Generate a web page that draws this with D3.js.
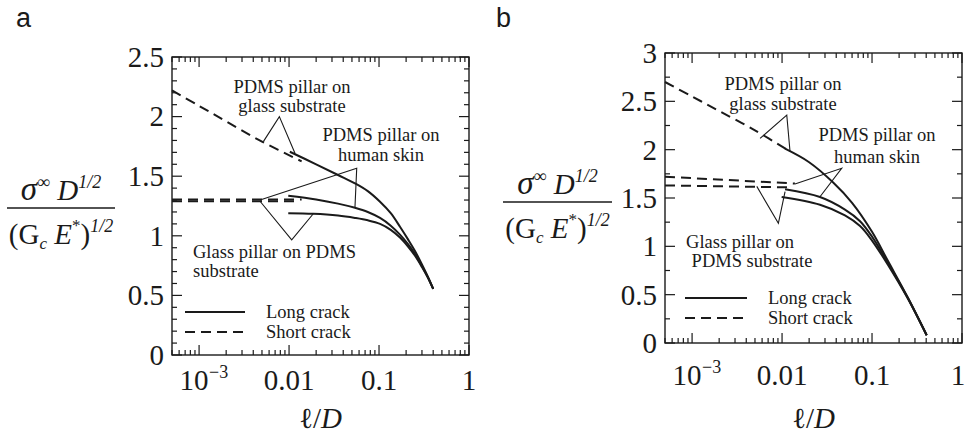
<!DOCTYPE html>
<html>
<head>
<meta charset="utf-8">
<script src="https://cdn.jsdelivr.net/npm/d3@7"></script>
<style>
  body { margin: 0; background: #fff; }
  svg { display: block; }
  text { font-family: "Liberation Serif", "Times New Roman", serif; fill: #1a1a1a; }
  text.letter { font-family: "Liberation Sans", Arial, sans-serif; }
</style>
</head>
<body>
<div id="chart"></div>
<script>
// x axis (shared by both panels)
const xDomain = [0.0005, 1];
const xMajorTicks = [0.001, 0.01, 0.1, 1];
const xTickLabels = ["10", "0.01", "0.1", "1"];
const xTickSup = ["\u22123", "", "", ""];

// panel a values
const aYTicks = [0, 0.5, 1, 1.5, 2, 2.5];
const aGlassShortX = [0.0005, 0.001, 0.002, 0.005, 0.0138];
const aGlassShortY = [2.22, 2.09, 1.96, 1.79, 1.625];
const aGlassLongX = [0.0102, 0.02, 0.035, 0.054, 0.075, 0.1026, 0.135, 0.171, 0.21, 0.25, 0.3, 0.35, 0.40];
const aGlassLongY = [1.705, 1.60, 1.51, 1.44, 1.375, 1.286, 1.19, 1.076, 0.97, 0.875, 0.76, 0.655, 0.554];
const aSkinShortX = [0.0005, 0.0138];
const aSkinShortY = [1.305, 1.305];
const aPillarShortX = [0.0005, 0.0125];
const aPillarShortY = [1.29, 1.29];
const aSkinLongX = [0.0098, 0.02, 0.035, 0.054, 0.075, 0.1026, 0.135, 0.171, 0.21, 0.25, 0.3, 0.35, 0.40];
const aSkinLongY = [1.336, 1.305, 1.27, 1.235, 1.20, 1.15, 1.085, 1.01, 0.93, 0.85, 0.745, 0.65, 0.554];
const aPillarLongX = [0.0098, 0.0186, 0.035, 0.054, 0.075, 0.1026, 0.135, 0.171, 0.21, 0.25, 0.3, 0.35, 0.40];
const aPillarLongY = [1.19, 1.185, 1.17, 1.15, 1.13, 1.10, 1.05, 0.985, 0.91, 0.835, 0.738, 0.647, 0.554];

// panel b values
const bYTicks = [0, 0.5, 1, 1.5, 2, 2.5, 3];
const bGlassShortX = [0.0005, 0.001, 0.002, 0.005, 0.0118];
const bGlassShortY = [2.70, 2.55, 2.40, 2.20, 1.99];
const bGlassLongX = [0.0108, 0.02, 0.037, 0.06, 0.1, 0.15, 0.25, 0.405];
const bGlassLongY = [2.01, 1.87, 1.66, 1.45, 1.15, 0.85, 0.47, 0.08];
const bSkinShortX = [0.0005, 0.0139];
const bSkinShortY = [1.72, 1.65];
const bPillarShortX = [0.0005, 0.012];
const bPillarShortY = [1.63, 1.61];
const bSkinLongX = [0.0108, 0.0264, 0.05, 0.0736, 0.1, 0.15, 0.25, 0.405];
const bSkinLongY = [1.59, 1.51, 1.38, 1.26, 1.10, 0.83, 0.465, 0.08];
const bPillarLongX = [0.0099, 0.0264, 0.05, 0.0736, 0.1, 0.15, 0.25, 0.405];
const bPillarLongY = [1.51, 1.43, 1.32, 1.21, 1.06, 0.81, 0.46, 0.08];

// callout lines in data space: [x, y] leg, apex, leg
const aCallouts = [
  [[0.00518, 1.79], [0.0078, 2.0], [0.01167, 1.69]],
  [[0.00476, 1.30], [0.0565, 1.566], [0.054, 1.235]],
  [[0.00476, 1.29], [0.0107, 0.965], [0.0186, 1.185]]
];
const bCallouts = [
  [[0.0057, 2.117], [0.01128, 2.358], [0.01227, 1.978]],
  [[0.0139, 1.645], [0.046, 1.807], [0.0264, 1.513]],
  [[0.00524, 1.62], [0.0091, 1.238], [0.0108, 1.565]]
];

const width = 966;
const height = 438;
const svg = d3.select("#chart").append("svg")
  .attr("width", width)
  .attr("height", height);

function zip(xs, ys) {
  return xs.map((x, i) => [x, ys[i]]);
}

function drawPanel(p) {
  const x = d3.scaleLog().domain(xDomain).range([p.left, p.right]);
  const y = d3.scaleLinear().domain([0, p.yMax]).range([p.bottom, p.top]);
  const g = svg.append("g");

  // frame
  g.append("rect")
    .attr("x", p.left).attr("y", p.top)
    .attr("width", p.right - p.left).attr("height", p.bottom - p.top)
    .attr("fill", "none").attr("stroke", "#1a1a1a").attr("stroke-width", 1.4);

  // log minor ticks, top and bottom, inward
  const minor = [];
  for (let e = -4; e <= 0; e++) {
    for (let k = 2; k <= 9; k++) {
      const v = k * Math.pow(10, e);
      if (v >= xDomain[0] && v < xDomain[1]) minor.push(v);
    }
  }
  const xt = g.append("g").attr("stroke", "#1a1a1a").attr("stroke-width", 1.2);
  minor.forEach(v => {
    xt.append("line").attr("x1", x(v)).attr("x2", x(v)).attr("y1", p.bottom).attr("y2", p.bottom - 5);
    xt.append("line").attr("x1", x(v)).attr("x2", x(v)).attr("y1", p.top).attr("y2", p.top + 5);
  });
  xMajorTicks.forEach(v => {
    xt.append("line").attr("x1", x(v)).attr("x2", x(v)).attr("y1", p.bottom).attr("y2", p.bottom - 10);
    xt.append("line").attr("x1", x(v)).attr("x2", x(v)).attr("y1", p.top).attr("y2", p.top + 10);
  });

  // y ticks, both sides, inward
  const yMinor = d3.range(0, p.yMax + 1e-9, p.yMinorStep);
  yMinor.forEach(v => {
    const major = Math.abs(v / 0.5 - Math.round(v / 0.5)) < 1e-6;
    const len = major ? 10 : 5;
    xt.append("line").attr("x1", p.left).attr("x2", p.left + len).attr("y1", y(v)).attr("y2", y(v));
    xt.append("line").attr("x1", p.right).attr("x2", p.right - len).attr("y1", y(v)).attr("y2", y(v));
  });

  // y tick labels
  g.selectAll(".ylab")
    .data(p.yTicks)
    .enter()
    .append("text")
    .attr("class", "ylab")
    .attr("x", p.left - 8)
    .attr("y", v => y(v))
    .attr("dy", "0.34em")
    .attr("text-anchor", "end")
    .attr("font-size", 29)
    .text(v => d3.format("~g")(v));

  // x tick labels
  xMajorTicks.forEach((v, i) => {
    const shift = xTickSup[i] ? -5 : (i === xMajorTicks.length - 1 ? p.lastShift : 0);
    g.append("text")
      .attr("x", x(v) + shift)
      .attr("y", p.xLabelBase)
      .attr("text-anchor", "middle")
      .attr("font-size", 29)
      .text(xTickLabels[i]);
    if (xTickSup[i]) {
      g.append("text")
        .attr("x", x(v) + 10)
        .attr("y", p.xLabelBase - 12)
        .attr("font-size", 18)
        .text(xTickSup[i]);
    }
  });

  // x axis title
  const xl = g.append("text")
    .attr("x", (p.left + p.right) / 2)
    .attr("y", p.xTitleBase)
    .attr("text-anchor", "middle")
    .attr("font-size", 29);
  xl.append("tspan").text("\u2113/");
  xl.append("tspan").attr("font-style", "italic").text("D");

  // y axis title as a fraction
  g.append("line")
    .attr("x1", p.fracLeft).attr("x2", p.fracRight)
    .attr("y1", p.fracY).attr("y2", p.fracY)
    .attr("stroke", "#1a1a1a").attr("stroke-width", 1.3);
  const cx = (p.fracLeft + p.fracRight) / 2;
  const num = g.append("text")
    .attr("x", cx).attr("y", p.fracY - 8)
    .attr("text-anchor", "middle")
    .attr("font-size", 29)
    .attr("font-style", "italic");
  num.append("tspan").attr("font-size", 33).text("\u03C3");
  num.append("tspan").attr("font-size", 18).attr("font-style", "normal").attr("dy", -12).text("\u221E");
  num.append("tspan").attr("dy", 12).text(" D");
  num.append("tspan").attr("font-size", 18).attr("dy", -12).text("1/2");
  const den = g.append("text")
    .attr("x", cx).attr("y", p.fracY + 36)
    .attr("text-anchor", "middle")
    .attr("font-size", 29);
  den.append("tspan").text("(G");
  den.append("tspan").attr("font-size", 17).attr("font-style", "italic").attr("dy", 5).text("c");
  den.append("tspan").attr("font-style", "italic").attr("dy", -5).text(" E");
  den.append("tspan").attr("font-size", 17).attr("dy", -13).text("*");
  den.append("tspan").attr("dy", 13).text(")");
  den.append("tspan").attr("font-size", 18).attr("font-style", "italic").attr("dy", -12).text("1/2");

  // panel letter
  g.append("text")
    .attr("class", "letter")
    .attr("x", p.letterX).attr("y", 27)
    .attr("font-size", 27)
    .text(p.letter);

  // curves
  const line = d3.line()
    .x(d => x(d[0]))
    .y(d => y(d[1]))
    .curve(d3.curveCatmullRom.alpha(0.5));
  p.series.forEach(s => {
    g.append("path")
      .datum(zip(s.x, s.y))
      .attr("d", line)
      .attr("fill", "none")
      .attr("stroke", "#1a1a1a")
      .attr("stroke-width", 2)
      .attr("stroke-dasharray", s.dashed ? "10,6" : null);
  });

  // callouts
  p.callouts.forEach(c => {
    g.append("path")
      .attr("d", d3.line().x(d => x(d[0])).y(d => y(d[1]))(c))
      .attr("fill", "none")
      .attr("stroke", "#1a1a1a")
      .attr("stroke-width", 1.1);
  });

  // annotation text
  p.notes.forEach(n => {
    g.append("text")
      .attr("x", n.x).attr("y", n.y)
      .attr("text-anchor", n.anchor || "middle")
      .attr("font-size", 18.5)
      .text(n.text);
  });

  // legend
  const ly1 = p.legendY, ly2 = p.legendY + 20;
  g.append("line").attr("x1", p.legendX).attr("x2", p.legendX + p.legendLen)
    .attr("y1", ly1).attr("y2", ly1).attr("stroke", "#1a1a1a").attr("stroke-width", 2);
  g.append("line").attr("x1", p.legendX).attr("x2", p.legendX + p.legendLen)
    .attr("y1", ly2).attr("y2", ly2).attr("stroke", "#1a1a1a").attr("stroke-width", 2)
    .attr("stroke-dasharray", "10,6");
  g.append("text").attr("x", p.legendTextX).attr("y", ly1).attr("dy", "0.33em")
    .attr("font-size", 18.5).text("Long crack");
  g.append("text").attr("x", p.legendTextX).attr("y", ly2).attr("dy", "0.33em")
    .attr("font-size", 18.5).text("Short crack");
}

drawPanel({
  letter: "a", letterX: 16,
  left: 172, right: 469, top: 57, bottom: 355,
  yMax: 2.5, yMinorStep: 0.1, yTicks: aYTicks,
  xLabelBase: 390, xTitleBase: 428, lastShift: 0,
  fracLeft: 7, fracRight: 115, fracY: 208,
  series: [
    { x: aGlassShortX, y: aGlassShortY, dashed: true },
    { x: aGlassLongX, y: aGlassLongY },
    { x: aSkinShortX, y: aSkinShortY, dashed: true },
    { x: aPillarShortX, y: aPillarShortY, dashed: true },
    { x: aSkinLongX, y: aSkinLongY },
    { x: aPillarLongX, y: aPillarLongY }
  ],
  callouts: aCallouts,
  notes: [
    { text: "PDMS pillar on", x: 292, y: 93 },
    { text: "glass substrate", x: 292, y: 112 },
    { text: "PDMS pillar on", x: 381, y: 141 },
    { text: "human skin", x: 381, y: 161 },
    { text: "Glass pillar on PDMS", x: 193, y: 258, anchor: "start" },
    { text: "substrate", x: 193, y: 277, anchor: "start" }
  ],
  legendX: 185, legendLen: 60, legendTextX: 266, legendY: 312
});

drawPanel({
  letter: "b", letterX: 496,
  left: 665, right: 962, top: 53, bottom: 343,
  yMax: 3, yMinorStep: 0.25, yTicks: bYTicks,
  xLabelBase: 385, xTitleBase: 428, lastShift: -4,
  fracLeft: 503, fracRight: 612, fracY: 202,
  series: [
    { x: bGlassShortX, y: bGlassShortY, dashed: true },
    { x: bGlassLongX, y: bGlassLongY },
    { x: bSkinShortX, y: bSkinShortY, dashed: true },
    { x: bPillarShortX, y: bPillarShortY, dashed: true },
    { x: bSkinLongX, y: bSkinLongY },
    { x: bPillarLongX, y: bPillarLongY }
  ],
  callouts: bCallouts,
  notes: [
    { text: "PDMS pillar on", x: 783, y: 90 },
    { text: "glass substrate", x: 783, y: 110 },
    { text: "PDMS pillar on", x: 877, y: 141 },
    { text: "human skin", x: 877, y: 163 },
    { text: "Glass pillar on", x: 740, y: 248 },
    { text: "PDMS substrate", x: 752, y: 267 }
  ],
  legendX: 685, legendLen: 62, legendTextX: 768, legendY: 298
});
</script>
</body>
</html>
